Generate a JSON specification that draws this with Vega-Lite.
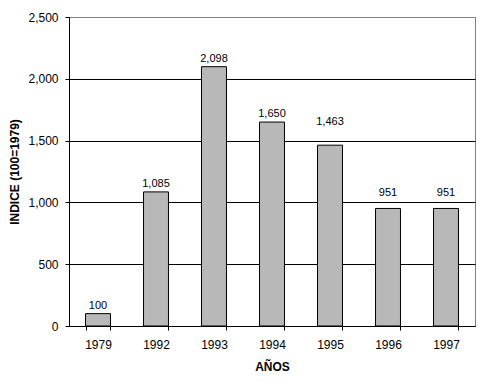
{
  "$schema": "https://vega.github.io/schema/vega-lite/v6.json",
  "width": 406,
  "height": 309,
  "autosize": {"type": "none"},
  "padding": {"left": 69, "top": 17, "right": 8, "bottom": 57},
  "background": "white",
  "config": {
    "view": {"stroke": "#808080", "strokeWidth": 1},
    "font": "Liberation Sans"
  },
  "data": {
    "values": [
      {"year": "1979", "value": 100},
      {"year": "1992", "value": 1085},
      {"year": "1993", "value": 2098},
      {"year": "1994", "value": 1650},
      {"year": "1995", "value": 1463},
      {"year": "1996", "value": 951},
      {"year": "1997", "value": 951}
    ]
  },
  "encoding": {
    "x": {
      "field": "year",
      "type": "ordinal",
      "sort": null,
      "scale": {"paddingInner": 0.57, "paddingOuter": 0.285},
      "axis": {
        "title": "AÑOS",
        "labelAngle": 0,
        "tickBand": "extent",
        "tickSize": 4,
        "domainColor": "black",
        "tickColor": "black",
        "labelPadding": 9,
        "labelFontSize": 12,
        "labelColor": "black",
        "titleFontSize": 12,
        "titleFontWeight": "bold",
        "titleColor": "black",
        "titlePadding": 11,
        "grid": false
      }
    },
    "y": {
      "field": "value",
      "type": "quantitative",
      "scale": {"domain": [0, 2500], "nice": false},
      "axis": {
        "title": "INDICE (100=1979)",
        "values": [0, 500, 1000, 1500, 2000, 2500],
        "format": ",.0f",
        "tickSize": 4,
        "labelPadding": 7,
        "grid": true,
        "gridColor": {"condition": {"test": "datum.value == 2500", "value": "#808080"}, "value": "black"},
        "gridOpacity": 1,
        "domainColor": "black",
        "tickColor": "black",
        "labelFontSize": 12,
        "labelColor": "black",
        "titleFontSize": 12,
        "titleFontWeight": "bold",
        "titleColor": "black",
        "titlePadding": 6
      }
    }
  },
  "layer": [
    {"mark": {"type": "bar", "fill": "#b8b8b8", "stroke": "black", "strokeWidth": 1}},
    {
      "transform": [{"filter": "datum.value != 951 && datum.value != 1463"}],
      "mark": {"type": "text", "dy": -5, "baseline": "alphabetic", "fontSize": 11, "fill": "black"},
      "encoding": {"text": {"field": "value", "type": "quantitative", "format": ",.0f"}}
    },
    {
      "transform": [{"filter": "datum.value == 1463"}],
      "mark": {"type": "text", "dy": -20, "baseline": "alphabetic", "fontSize": 11, "fill": "black"},
      "encoding": {"text": {"field": "value", "type": "quantitative", "format": ",.0f"}}
    },
    {
      "transform": [{"filter": "datum.value == 951"}],
      "mark": {"type": "text", "dy": -12, "baseline": "alphabetic", "fontSize": 11, "fill": "black"},
      "encoding": {"text": {"field": "value", "type": "quantitative", "format": ",.0f"}}
    }
  ]
}
